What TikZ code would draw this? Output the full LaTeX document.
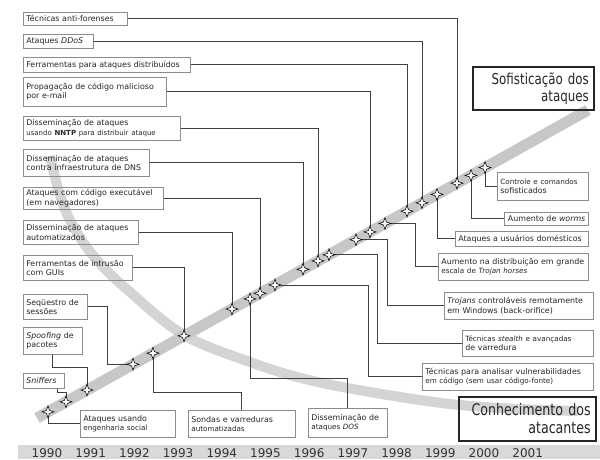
\documentclass[tikz,border=0pt]{standalone}
\usepackage{fontspec}
\setmainfont{DejaVu Sans}
\newfontfamily\bigfont[FakeStretch=0.79]{DejaVu Sans}
\usetikzlibrary{shapes.geometric}
\definecolor{bandA}{gray}{0.78}
\definecolor{bandB}{gray}{0.83}
\definecolor{boxgray}{gray}{0.55}
\definecolor{linegray}{gray}{0.25}
\definecolor{yearbar}{gray}{0.85}
\begin{document}
\begin{tikzpicture}[x=1pt,y=-1pt,
 bx/.style={draw=boxgray, line width=0.7pt, inner xsep=3pt, inner ysep=1pt, align=left, anchor=north west, font=\fontsize{7.9}{9.4}\selectfont, text=black!85},
 sparkle/.style={star, star points=4, star point ratio=2.8, minimum size=12pt, inner sep=0pt, fill=white, draw=black, line width=0.55pt},
 conn/.style={draw=linegray, line width=0.8pt},
 bigbox/.style={draw=black!85, line width=1.6pt, align=right, anchor=north west, inner xsep=5pt, inner ysep=2pt, text=black!85},
 yr/.style={font=\fontsize{12}{12}\selectfont, text=black!80, anchor=base}]
\fill[white] (0,0) rectangle (600,459);
\useasboundingbox (0,0) rectangle (600,459);

% bands
\draw[bandB, line width=10pt] plot[smooth, tension=0.6] coordinates {(50,156) (60,195) (73,226) (96,259) (130,292) (184,335) (250,362) (305,379) (370,392) (450,404) (520,409) (578,411)};
\draw[bandA, line width=11pt] (37,418) -- (588,110);

% year bar
\fill[yearbar] (18,445) rectangle (600,459);
\foreach \i in {0,...,11}{
  \pgfmathtruncatemacro{\yy}{1990+\i}
  \node[yr] (y\i) at ({47+43.7*\i},457.5) {\yy};
}

% boxes
\node[bx, text width=98pt, minimum height=13pt] (b1) at (23,12) {Técnicas anti-forenses};
\node[bx, text width=64pt, minimum height=14pt] (b2) at (23,34) {Ataques \textit{DDoS}};
\node[bx, text width=161pt, minimum height=15pt] (b3) at (23,57) {Ferramentas para ataques distribuídos};
\node[bx, text width=137pt, minimum height=29pt] (b4) at (23,77) {Propagação de código malicioso\\por e-mail};
\node[bx, text width=151pt, minimum height=24pt] (b5) at (23,116) {Disseminação de ataques\\{\fontsize{7}{9}\selectfont usando \textbf{NNTP} para distribuir ataque}};
\node[bx, text width=120pt, minimum height=27pt] (b6) at (23,149) {Disseminação de ataques\\contra infraestrutura de DNS};
\node[bx, text width=134pt, minimum height=22pt] (b7) at (23,187) {Ataques com código executável\\(em navegadores)};
\node[bx, text width=109pt, minimum height=24pt] (b8) at (23,220) {Disseminação de ataques\\automatizados};
\node[bx, text width=103pt, minimum height=25pt] (b9) at (23,255) {Ferramentas de intrusão\\com GUIs};
\node[bx, text width=58pt, minimum height=25pt] (b10) at (23,294) {Seqüestro de\\sessões};
\node[bx, text width=53pt, minimum height=27pt] (b11) at (23,327) {\textit{Spoofing} de\\pacotes};
\node[bx, text width=35pt, minimum height=15pt] (b12) at (23,373) {\textit{Sniffers}};
\node[bx, text width=89pt, minimum height=27pt] (b13) at (80,410) {Ataques usando\\{\fontsize{7.2}{9}\selectfont engenharia social}};
\node[bx, text width=101pt, minimum height=27pt] (b14) at (188,410) {Sondas e varreduras\\{\fontsize{7.2}{9}\selectfont automatizadas}};
\node[bx, text width=73pt, minimum height=29pt] (b15) at (308,408) {Disseminação de\\{\fontsize{7.2}{9}\selectfont ataques \textit{DOS}}};
\node[bx, text width=165pt, minimum height=27pt] (b16) at (422,363) {Técnicas para analisar vulnerabilidades\\{\fontsize{7.2}{9}\selectfont em código (sem usar código-fonte)}};
\node[bx, text width=125pt, minimum height=26pt] (b17) at (462,330) {{\fontsize{7.2}{9}\selectfont Técnicas \textit{stealth} e avançadas}\\de varredura};
\node[bx, text width=143pt, minimum height=27pt] (b18) at (444,292) {\textit{Trojans} controláveis remotamente\\em Windows (back-orifice)};
\node[bx, text width=144pt, minimum height=27pt] (b19) at (438,253) {Aumento na distribuição em grande\\{\fontsize{7.2}{9}\selectfont escala de \textit{Trojan horses}}};
\node[bx, text width=127pt, minimum height=15pt] (b20) at (455,231) {Ataques a usuários domésticos};
\node[bx, text width=78pt, minimum height=13pt, align=right] (b21) at (504,212) {Aumento de \textit{worms}};
\node[bx, text width=85pt, minimum height=28pt] (b22) at (497,172) {{\fontsize{7.2}{9}\selectfont Controle e comandos}\\sofisticados};

% big labels
\node[bigbox, text width=111pt, minimum height=43pt, font=\bigfont\fontsize{15}{17}\selectfont] (soph) at (472,66) {Sofisticação dos\\ataques};
\node[bigbox, text width=127pt, minimum height=44pt, font=\bigfont\fontsize{16}{18}\selectfont] (know) at (458,396) {Conhecimento dos\\atacantes};

% coordinates for bends
\coordinate (c10) at (107,0);
\coordinate (c11) at (0,367);
\coordinate (c12) at (0,392);
\coordinate (c14) at (0,392);
\coordinate (c15) at (0,378);
\coordinate (c16) at (368,0);
\coordinate (c17) at (377,0);
\coordinate (c18) at (387,0);
\coordinate (c19) at (415,0);

% stars (positions on the band)
\coordinate (s1) at (457,183.2);
\coordinate (s2) at (422,202.8);
\coordinate (s3) at (407,211.2);
\coordinate (s4) at (370,231.9);
\coordinate (s5) at (318,260.9);
\coordinate (s6) at (303,269.3);
\coordinate (s7) at (260,293.3);
\coordinate (s8) at (232,309.0);
\coordinate (s9) at (184,335.8);
\coordinate (s10) at (133,364.3);
\coordinate (s11) at (87,390.1);
\coordinate (s12) at (66,401.8);
\coordinate (s13) at (48,411.8);
\coordinate (s14) at (153,353.2);
\coordinate (s15) at (250,298.9);
\coordinate (s16) at (275,285.0);
\coordinate (s17) at (329,254.8);
\coordinate (s18) at (356,239.7);
\coordinate (s19) at (385,223.5);
\coordinate (s20) at (437,194.4);
\coordinate (s21) at (471,175.4);
\coordinate (s22) at (485,167.6);

% connectors
\foreach \n in {1,...,9}{ \draw[conn] (b\n.east) -| (s\n); }
\draw[conn] (b10.east) -| (c10 |- s10) -- (s10);
\draw[conn] (b11.south) |- (s11 |- c11) -- (s11);
\draw[conn] ([xshift=14pt]b12.south) |- (s12 |- c12) -- (s12);
\draw[conn] (b13.west) -| (s13);
\draw[conn] (b14.north) |- (s14 |- c14) -- (s14);
\draw[conn] (b15.north) |- (s15 |- c15) -- (s15);
\draw[conn] (b16.west) -| (c16 |- s16) -- (s16);
\draw[conn] (b17.west) -| (c17 |- s17) -- (s17);
\draw[conn] (b18.west) -| (c18 |- s18) -- (s18);
\draw[conn] (b19.west) -| (c19 |- s19) -- (s19);
\foreach \n in {20,21,22}{ \draw[conn] (b\n.west) -| (s\n); }

% star nodes
\foreach \n in {1,...,22}{ \node[sparkle] (st\n) at (s\n) {}; }
\end{tikzpicture}
\end{document}
